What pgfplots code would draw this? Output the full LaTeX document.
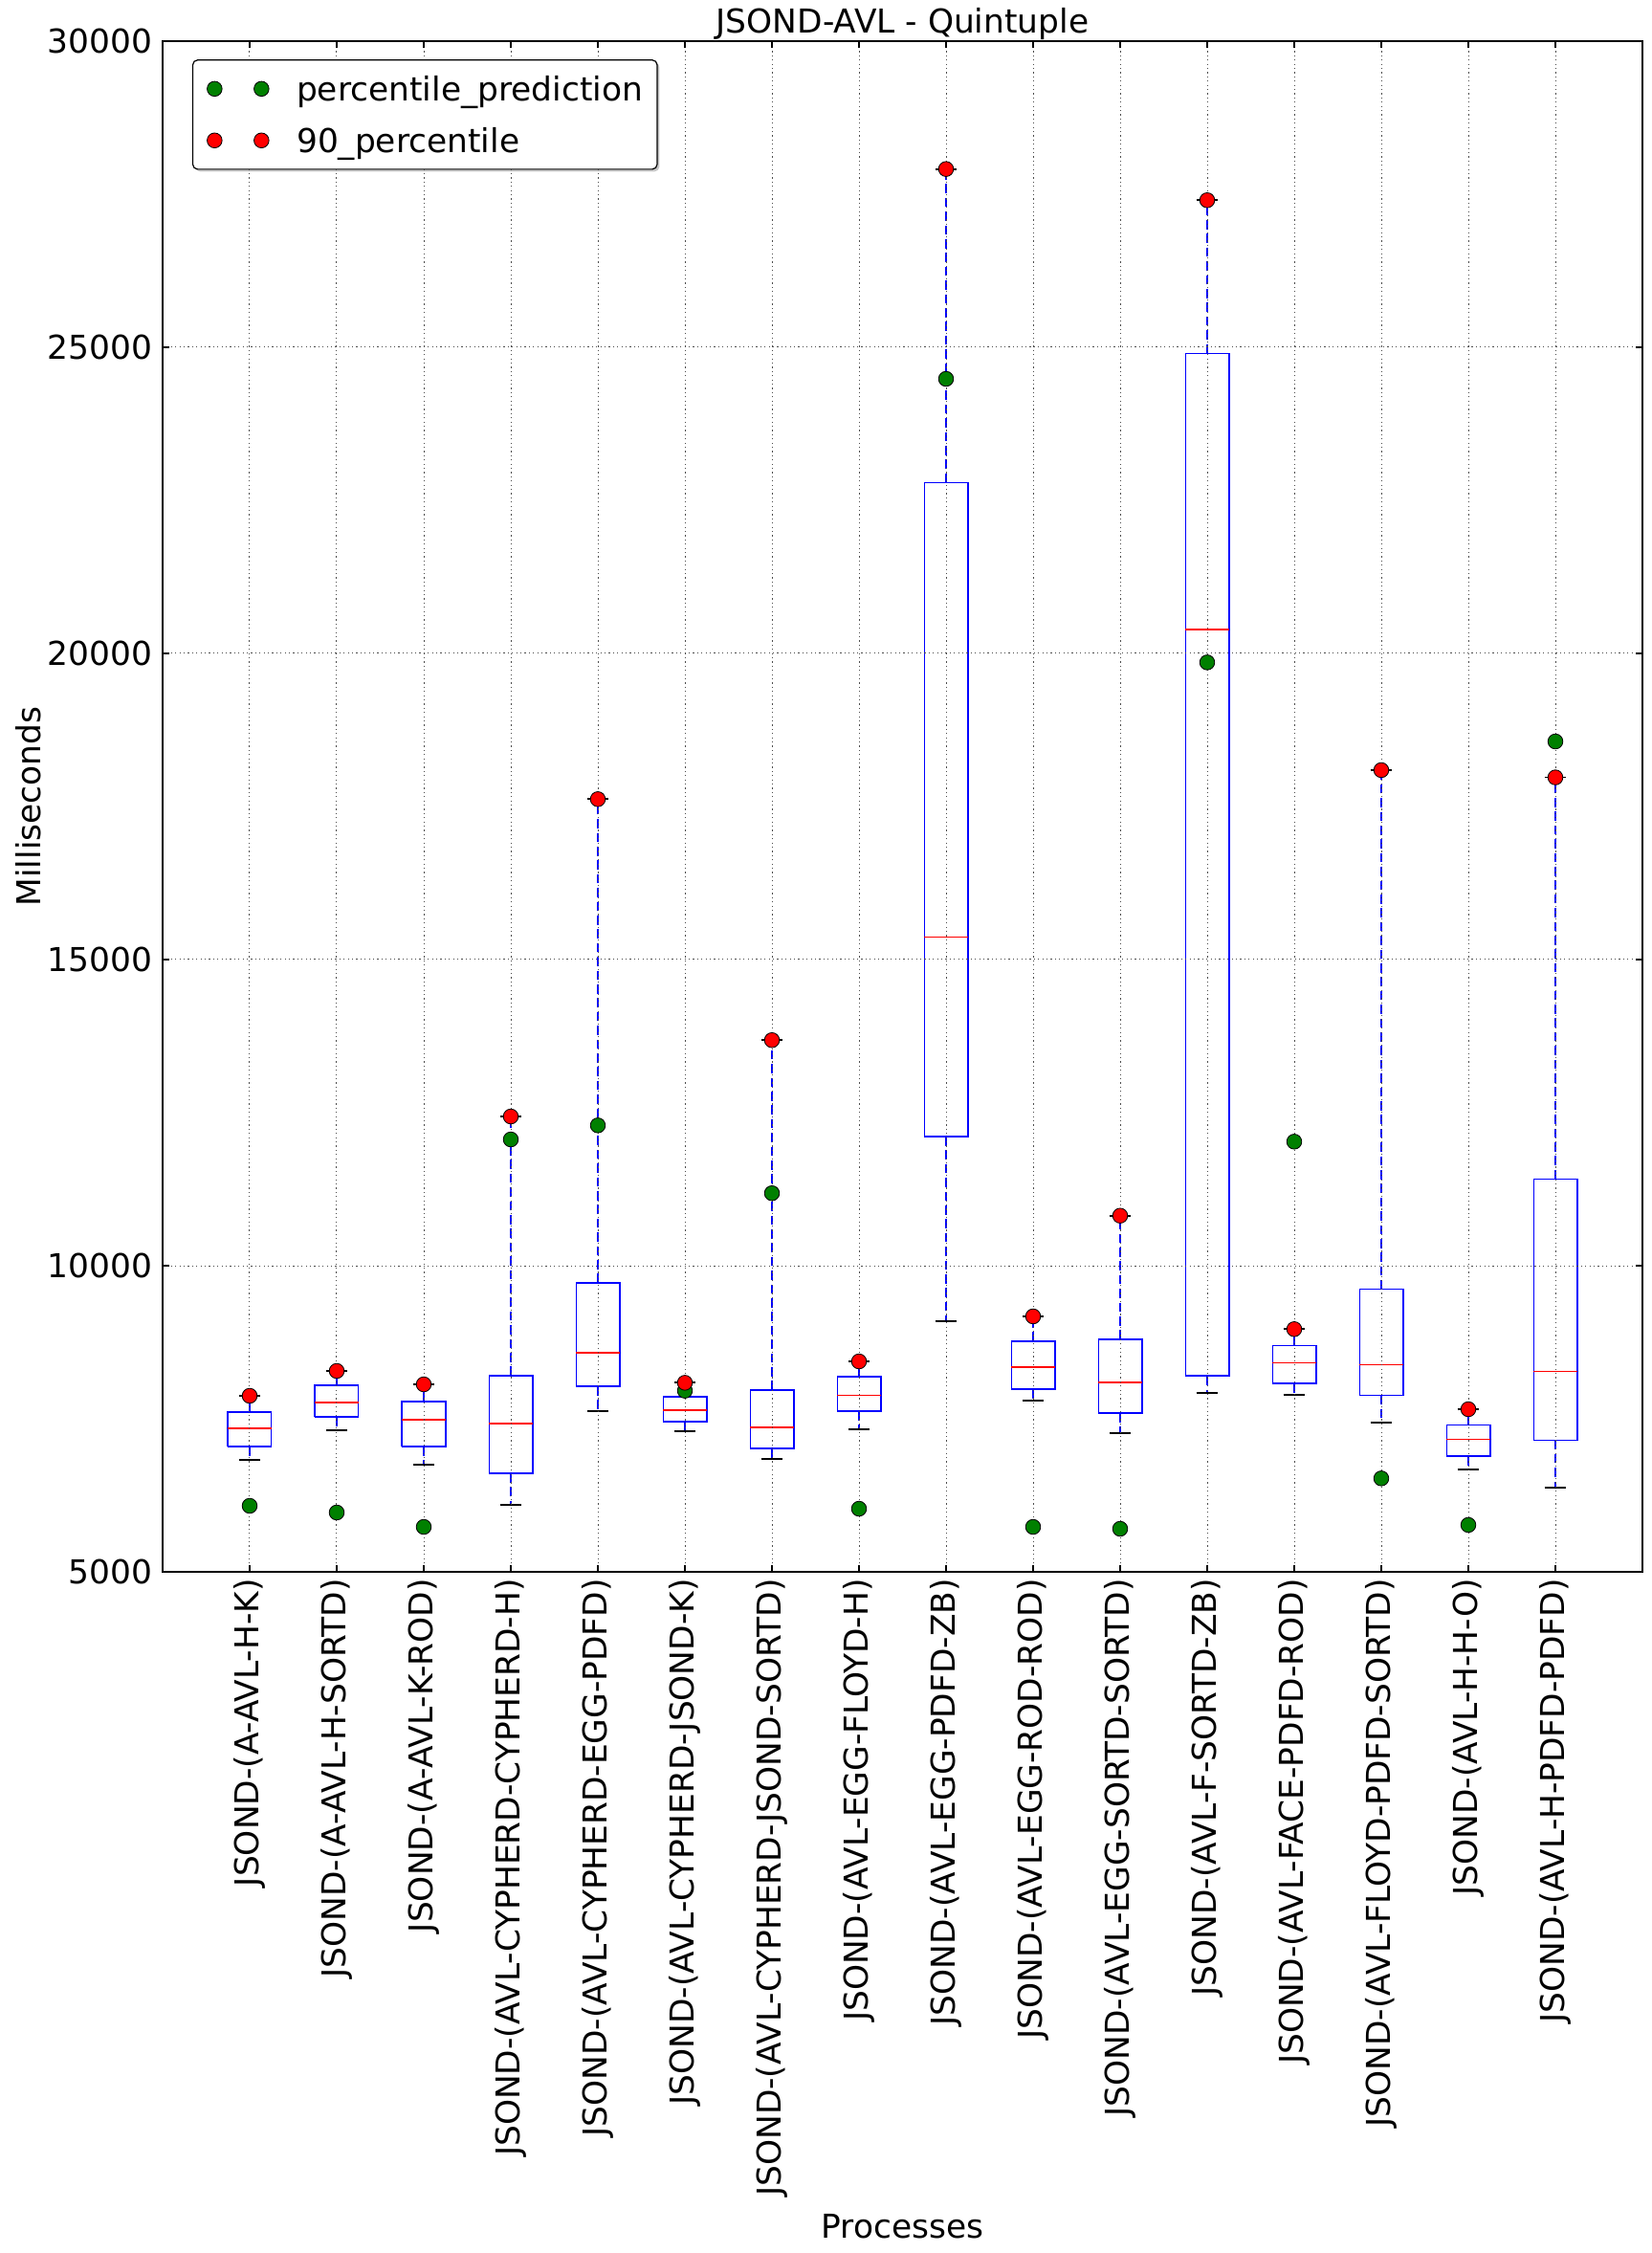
\documentclass[border=0pt]{standalone}
\usepackage{fontspec}
\setmainfont{DejaVu Sans}
\usepackage{pgfplots}
\pgfplotsset{compat=1.18}
\usetikzlibrary{shadows}
\definecolor{mplgreen}{RGB}{0,128,0}
\definecolor{mplred}{RGB}{255,0,0}
\definecolor{mplblue}{RGB}{0,0,255}
\newcommand{\fs}{\fontsize{17.2}{20.6}\selectfont}
\pgfplotsset{
  twomarks/.style={legend image code/.code={\draw[sharp corners, mark repeat=1, mark phase=1, ##1] plot coordinates {(0pt,0pt) (24.5pt,0pt)};}},
}
\begin{document}
\begin{tikzpicture}[font=\fs]
\begin{axis}[
  scale only axis,
  width=773.5pt, height=800pt,
  xmin=0, xmax=17, ymin=5000, ymax=30000,
  xtick={1,...,16},
  xticklabels={JSOND-(A-AVL-H-K),JSOND-(A-AVL-H-SORTD),JSOND-(A-AVL-K-ROD),JSOND-(AVL-CYPHERD-CYPHERD-H),JSOND-(AVL-CYPHERD-EGG-PDFD),JSOND-(AVL-CYPHERD-JSOND-K),JSOND-(AVL-CYPHERD-JSOND-SORTD),JSOND-(AVL-EGG-FLOYD-H),JSOND-(AVL-EGG-PDFD-ZB),JSOND-(AVL-EGG-ROD-ROD),JSOND-(AVL-EGG-SORTD-SORTD),JSOND-(AVL-F-SORTD-ZB),JSOND-(AVL-FACE-PDFD-ROD),JSOND-(AVL-FLOYD-PDFD-SORTD),JSOND-(AVL-H-H-O),JSOND-(AVL-H-PDFD-PDFD)},
  ytick={5000,10000,15000,20000,25000,30000},
  yticklabels={5000,10000,15000,20000,25000,30000},
  every tick label/.append style={font=\fs},
  xticklabel style={rotate=90, anchor=east, inner xsep=3.5pt, inner ysep=0pt},
  yticklabel style={anchor=east, inner xsep=5.2pt, inner ysep=0pt},
  grid=major,
  major grid style={black!70, line width=0.5pt, dash pattern=on 0.6pt off 1.6pt},
  tick align=inside,
  major tick length=3.5pt,
  tick style={black, line width=0.6pt},
  axis line style={black, line width=0.8pt},
  axis on top,
  unbounded coords=jump,
  title={JSOND-AVL - Quintuple},
  every axis title shift=0pt,
  title style={at={(axis description cs:0.5,1)}, anchor=base, yshift=4.3pt, inner sep=0pt, font=\fs},
  xlabel={Processes},
  xlabel style={at={(axis description cs:0.5,-0.4356)}, anchor=base, inner sep=0pt, font=\fs},
  ylabel={Milliseconds},
  ylabel style={at={(axis description cs:-0.08274,0.5)}, anchor=base, inner sep=0pt, font=\fs},
  legend cell align=left,
  legend style={at={(0.02,0.988)}, anchor=north west, draw=black, line width=0.6pt,
    rounded corners=2.5pt, fill=white, inner xsep=7.5pt, inner ysep=8.5pt,
    row sep=13.9pt, column sep=14.5pt, font=\fs,
    nodes={inner sep=0pt, text depth=0pt},
    drop shadow={shadow xshift=1.2pt, shadow yshift=-1.2pt, fill=black!45}},
]
\coordinate (SW) at (rel axis cs:0,0);
% whiskers (quartile -> whisker end)
\addplot[forget plot, mplblue, line width=0.75pt, dash pattern=on 4.8pt off 2.4pt] coordinates {
(1,7047)(1,6828) (1,nan) (1,7609)(1,7875) (1,nan)
(2,7531)(2,7312) (2,nan) (2,8047)(2,8281) (2,nan)
(3,7047)(3,6750) (3,nan) (3,7781)(3,8062) (3,nan)
(4,6609)(4,6094) (4,nan) (4,8203)(4,12437) (4,nan)
(5,8031)(5,7625) (5,nan) (5,9719)(5,17620) (5,nan)
(6,7453)(6,7297) (6,nan) (6,7859)(6,8088) (6,nan)
(7,7016)(7,6844) (7,nan) (7,7969)(7,13684) (7,nan)
(8,7625)(8,7328) (8,nan) (8,8187)(8,8437) (8,nan)
(9,12109)(9,9090) (9,nan) (9,22790)(9,27911) (9,nan)
(10,7984)(10,7797) (10,nan) (10,8766)(10,9172) (10,nan)
(11,7594)(11,7266) (11,nan) (11,8797)(11,10817) (11,nan)
(12,8200)(12,7922) (12,nan) (12,24902)(12,27402) (12,nan)
(13,8078)(13,7885) (13,nan) (13,8698)(13,8964) (13,nan)
(14,7885)(14,7432) (14,nan) (14,9614)(14,18094) (14,nan)
(15,6891)(15,6667) (15,nan) (15,7401)(15,7656) (15,nan)
(16,7151)(16,6370) (16,nan) (16,11417)(16,17975)
};
% boxes (lower quartile to upper quartile)
\addplot[forget plot, mplblue, line width=0.75pt, solid, line join=miter] coordinates {
(0.75,7047)(1.25,7047)(1.25,7609)(0.75,7609)(0.75,7047) (1,nan)
(1.75,7531)(2.25,7531)(2.25,8047)(1.75,8047)(1.75,7531) (2,nan)
(2.75,7047)(3.25,7047)(3.25,7781)(2.75,7781)(2.75,7047) (3,nan)
(3.75,6609)(4.25,6609)(4.25,8203)(3.75,8203)(3.75,6609) (4,nan)
(4.75,8031)(5.25,8031)(5.25,9719)(4.75,9719)(4.75,8031) (5,nan)
(5.75,7453)(6.25,7453)(6.25,7859)(5.75,7859)(5.75,7453) (6,nan)
(6.75,7016)(7.25,7016)(7.25,7969)(6.75,7969)(6.75,7016) (7,nan)
(7.75,7625)(8.25,7625)(8.25,8187)(7.75,8187)(7.75,7625) (8,nan)
(8.75,12109)(9.25,12109)(9.25,22790)(8.75,22790)(8.75,12109) (9,nan)
(9.75,7984)(10.25,7984)(10.25,8766)(9.75,8766)(9.75,7984) (10,nan)
(10.75,7594)(11.25,7594)(11.25,8797)(10.75,8797)(10.75,7594) (11,nan)
(11.75,8200)(12.25,8200)(12.25,24902)(11.75,24902)(11.75,8200) (12,nan)
(12.75,8078)(13.25,8078)(13.25,8698)(12.75,8698)(12.75,8078) (13,nan)
(13.75,7885)(14.25,7885)(14.25,9614)(13.75,9614)(13.75,7885) (14,nan)
(14.75,6891)(15.25,6891)(15.25,7401)(14.75,7401)(14.75,6891) (15,nan)
(15.75,7151)(16.25,7151)(16.25,11417)(15.75,11417)(15.75,7151)
};
% medians
\addplot[forget plot, mplred, line width=0.75pt, solid] coordinates {
(0.75,7344)(1.25,7344) (1,nan)
(1.75,7766)(2.25,7766) (2,nan)
(2.75,7484)(3.25,7484) (3,nan)
(3.75,7422)(4.25,7422) (4,nan)
(4.75,8578)(5.25,8578) (5,nan)
(5.75,7641)(6.25,7641) (6,nan)
(6.75,7359)(7.25,7359) (7,nan)
(7.75,7885)(8.25,7885) (8,nan)
(8.75,15370)(9.25,15370) (9,nan)
(9.75,8344)(10.25,8344) (10,nan)
(10.75,8094)(11.25,8094) (11,nan)
(11.75,20391)(12.25,20391) (12,nan)
(12.75,8417)(13.25,8417) (13,nan)
(13.75,8385)(14.25,8385) (14,nan)
(14.75,7167)(15.25,7167) (15,nan)
(15.75,8276)(16.25,8276)
};
% whisker caps
\addplot[forget plot, black, line width=0.9pt, solid] coordinates {
(0.875,6828)(1.125,6828) (1,nan) (0.875,7875)(1.125,7875) (1,nan)
(1.875,7312)(2.125,7312) (2,nan) (1.875,8281)(2.125,8281) (2,nan)
(2.875,6750)(3.125,6750) (3,nan) (2.875,8062)(3.125,8062) (3,nan)
(3.875,6094)(4.125,6094) (4,nan) (3.875,12437)(4.125,12437) (4,nan)
(4.875,7625)(5.125,7625) (5,nan) (4.875,17620)(5.125,17620) (5,nan)
(5.875,7297)(6.125,7297) (6,nan) (5.875,8088)(6.125,8088) (6,nan)
(6.875,6844)(7.125,6844) (7,nan) (6.875,13684)(7.125,13684) (7,nan)
(7.875,7328)(8.125,7328) (8,nan) (7.875,8437)(8.125,8437) (8,nan)
(8.875,9090)(9.125,9090) (9,nan) (8.875,27911)(9.125,27911) (9,nan)
(9.875,7797)(10.125,7797) (10,nan) (9.875,9172)(10.125,9172) (10,nan)
(10.875,7266)(11.125,7266) (11,nan) (10.875,10817)(11.125,10817) (11,nan)
(11.875,7922)(12.125,7922) (12,nan) (11.875,27402)(12.125,27402) (12,nan)
(12.875,7885)(13.125,7885) (13,nan) (12.875,8964)(13.125,8964) (13,nan)
(13.875,7432)(14.125,7432) (14,nan) (13.875,18094)(14.125,18094) (14,nan)
(14.875,6667)(15.125,6667) (15,nan) (14.875,7656)(15.125,7656) (15,nan)
(15.875,6370)(16.125,6370) (16,nan) (15.875,17975)(16.125,17975)
};
% percentile_prediction
\addplot[only marks, mark=*, mark size=3.9pt, draw=black, fill=mplgreen, line width=0.4pt, solid, twomarks]
  coordinates {(1,6078) (2,5969) (3,5734) (4,12062) (5,12292) (6,7958) (7,11184) (8,6031) (9,24484) (10,5734) (11,5703) (12,19853) (13,12026) (14,6526) (15,5766) (16,18562)};
\addlegendentry{percentile\_prediction}
% 90_percentile
\addplot[only marks, mark=*, mark size=3.9pt, draw=black, fill=mplred, line width=0.4pt, solid, twomarks]
  coordinates {(1,7875) (2,8281) (3,8062) (4,12437) (5,17620) (6,8088) (7,13684) (8,8437) (9,27911) (10,9172) (11,10817) (12,27402) (13,8964) (14,18094) (15,7656) (16,17975)};
\addlegendentry{90\_percentile}
\end{axis}
\pgfresetboundingbox
\path[use as bounding box] ([shift={(-85pt,-356pt)}]SW) rectangle ([shift={(778pt,821.5pt)}]SW);
\end{tikzpicture}
\end{document}
